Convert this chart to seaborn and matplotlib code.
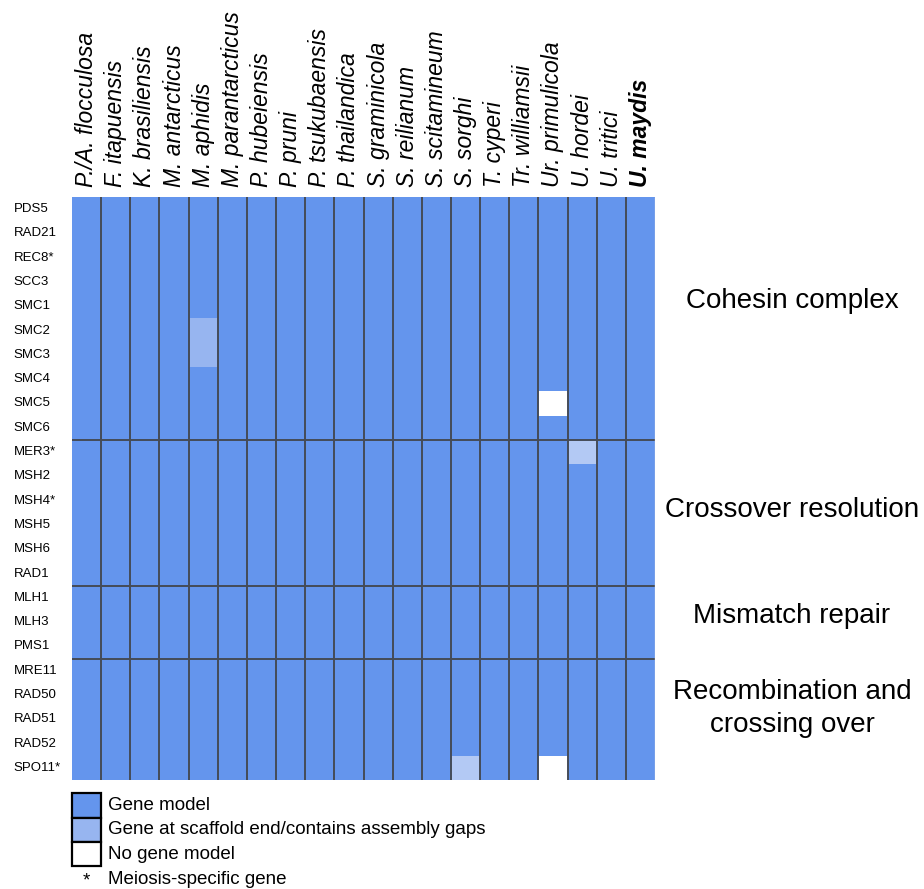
import matplotlib.pyplot as plt
import matplotlib.patches as mpatches
from matplotlib.colors import ListedColormap
import seaborn as sns
import numpy as np

sns.set_style("white")
plt.rcParams['font.family'] = ['Liberation Sans', 'DejaVu Sans']
plt.rcParams['text.color'] = 'black'
plt.rcParams['xtick.color'] = 'black'
plt.rcParams['ytick.color'] = 'black'

genes = ["PDS5", "RAD21", "REC8*", "SCC3", "SMC1", "SMC2", "SMC3", "SMC4", "SMC5", "SMC6",
         "MER3*", "MSH2", "MSH4*", "MSH5", "MSH6", "RAD1",
         "MLH1", "MLH3", "PMS1",
         "MRE11", "RAD50", "RAD51", "RAD52", "SPO11*"]
species = ["P./A. flocculosa", "F. itapuensis", "K. brasiliensis", "M. antarcticus", "M. aphidis",
           "M. parantarcticus", "P. hubeiensis", "P. pruni", "P. tsukubaensis", "P. thailandica",
           "S. graminicola", "S. reilianum", "S. scitamineum", "S. sorghi", "T. cyperi",
           "Tr. williamsii", "Ur. primulicola", "U. hordei", "U. tritici", "U. maydis"]

# 3 = gene model, 2 = scaffold end / gaps, 1 = paler shade, 0 = no gene model
status = [
    "33333333333333333333",  # PDS5
    "33333333333333333333",  # RAD21
    "33333333333333333333",  # REC8*
    "33333333333333333333",  # SCC3
    "33333333333333333333",  # SMC1
    "33332333333333333333",  # SMC2
    "33332333333333333333",  # SMC3
    "33333333333333333333",  # SMC4
    "33333333333333330333",  # SMC5
    "33333333333333333333",  # SMC6
    "33333333333333333133",  # MER3*
    "33333333333333333333",  # MSH2
    "33333333333333333333",  # MSH4*
    "33333333333333333333",  # MSH5
    "33333333333333333333",  # MSH6
    "33333333333333333333",  # RAD1
    "33333333333333333333",  # MLH1
    "33333333333333333333",  # MLH3
    "33333333333333333333",  # PMS1
    "33333333333333333333",  # MRE11
    "33333333333333333333",  # RAD50
    "33333333333333333333",  # RAD51
    "33333333333333333333",  # RAD52
    "33333333333331330333",  # SPO11*
]
group_breaks = [10, 16, 19]
groups = ["Cohesin complex", "Crossover resolution", "Mismatch repair", "Recombination and\ncrossing over"]
group_pos = [4.3, 12.9, 17.25, 21.05]
legend_labels = ["Gene model", "Gene at scaffold end/contains assembly gaps", "No gene model"]

data = np.array([[int(c) for c in row] for row in status])
colors = ['#ffffff', '#b3c9f4', '#97b5f0', '#6495ed']
cmap = ListedColormap(colors)

fig = plt.figure(figsize=(9.24, 8.89), dpi=100)
ax = fig.add_axes([72 / 924, 109 / 889, 583 / 924, 583 / 889])
sns.heatmap(data, cmap=cmap, vmin=-0.5, vmax=3.5, cbar=False, ax=ax,
            xticklabels=species, yticklabels=genes)

for x in range(1, len(species)):
    ax.axvline(x, color='#454b57', lw=1.4)
for y in group_breaks:
    ax.axhline(y, color='#454b57', lw=1.4)
ax.axvline(len(species), color='#c8ccd4', lw=1)

ax.xaxis.tick_top()
ax.tick_params(axis='both', length=0)
ax.tick_params(axis='x', pad=7)
ax.tick_params(axis='y', pad=42)
for lab in ax.get_xticklabels():
    lab.set_rotation(90)
    lab.set_fontsize(16.5)
    lab.set_style('italic')
    lab.set_ha('center')
    lab.set_va('bottom')
ax.get_xticklabels()[-1].set_weight('bold')
for lab in ax.get_yticklabels():
    lab.set_rotation(0)
    lab.set_fontsize(9.5)
    lab.set_ha('left')

for name, yp in zip(groups, group_pos):
    ax.text(24.7, yp, name, fontsize=20, ha='center', va='center', linespacing=1.32)

# legend
for i, (lab, c) in enumerate(zip(legend_labels, [colors[3], colors[2], colors[0]])):
    ax.add_patch(mpatches.Rectangle((0, 24.55 + i), 1, 1, facecolor=c, edgecolor='black',
                                    lw=1.6, clip_on=False))
    ax.text(1.25, 25.05 + i, lab, fontsize=13.5, va='center', ha='left')
ax.text(0.5, 28.15, "*", fontsize=13.5, va='center', ha='center')
ax.text(1.25, 28.1, "Meiosis-specific gene", fontsize=13.5, va='center', ha='left')

fig.savefig("out.png", dpi=100)
